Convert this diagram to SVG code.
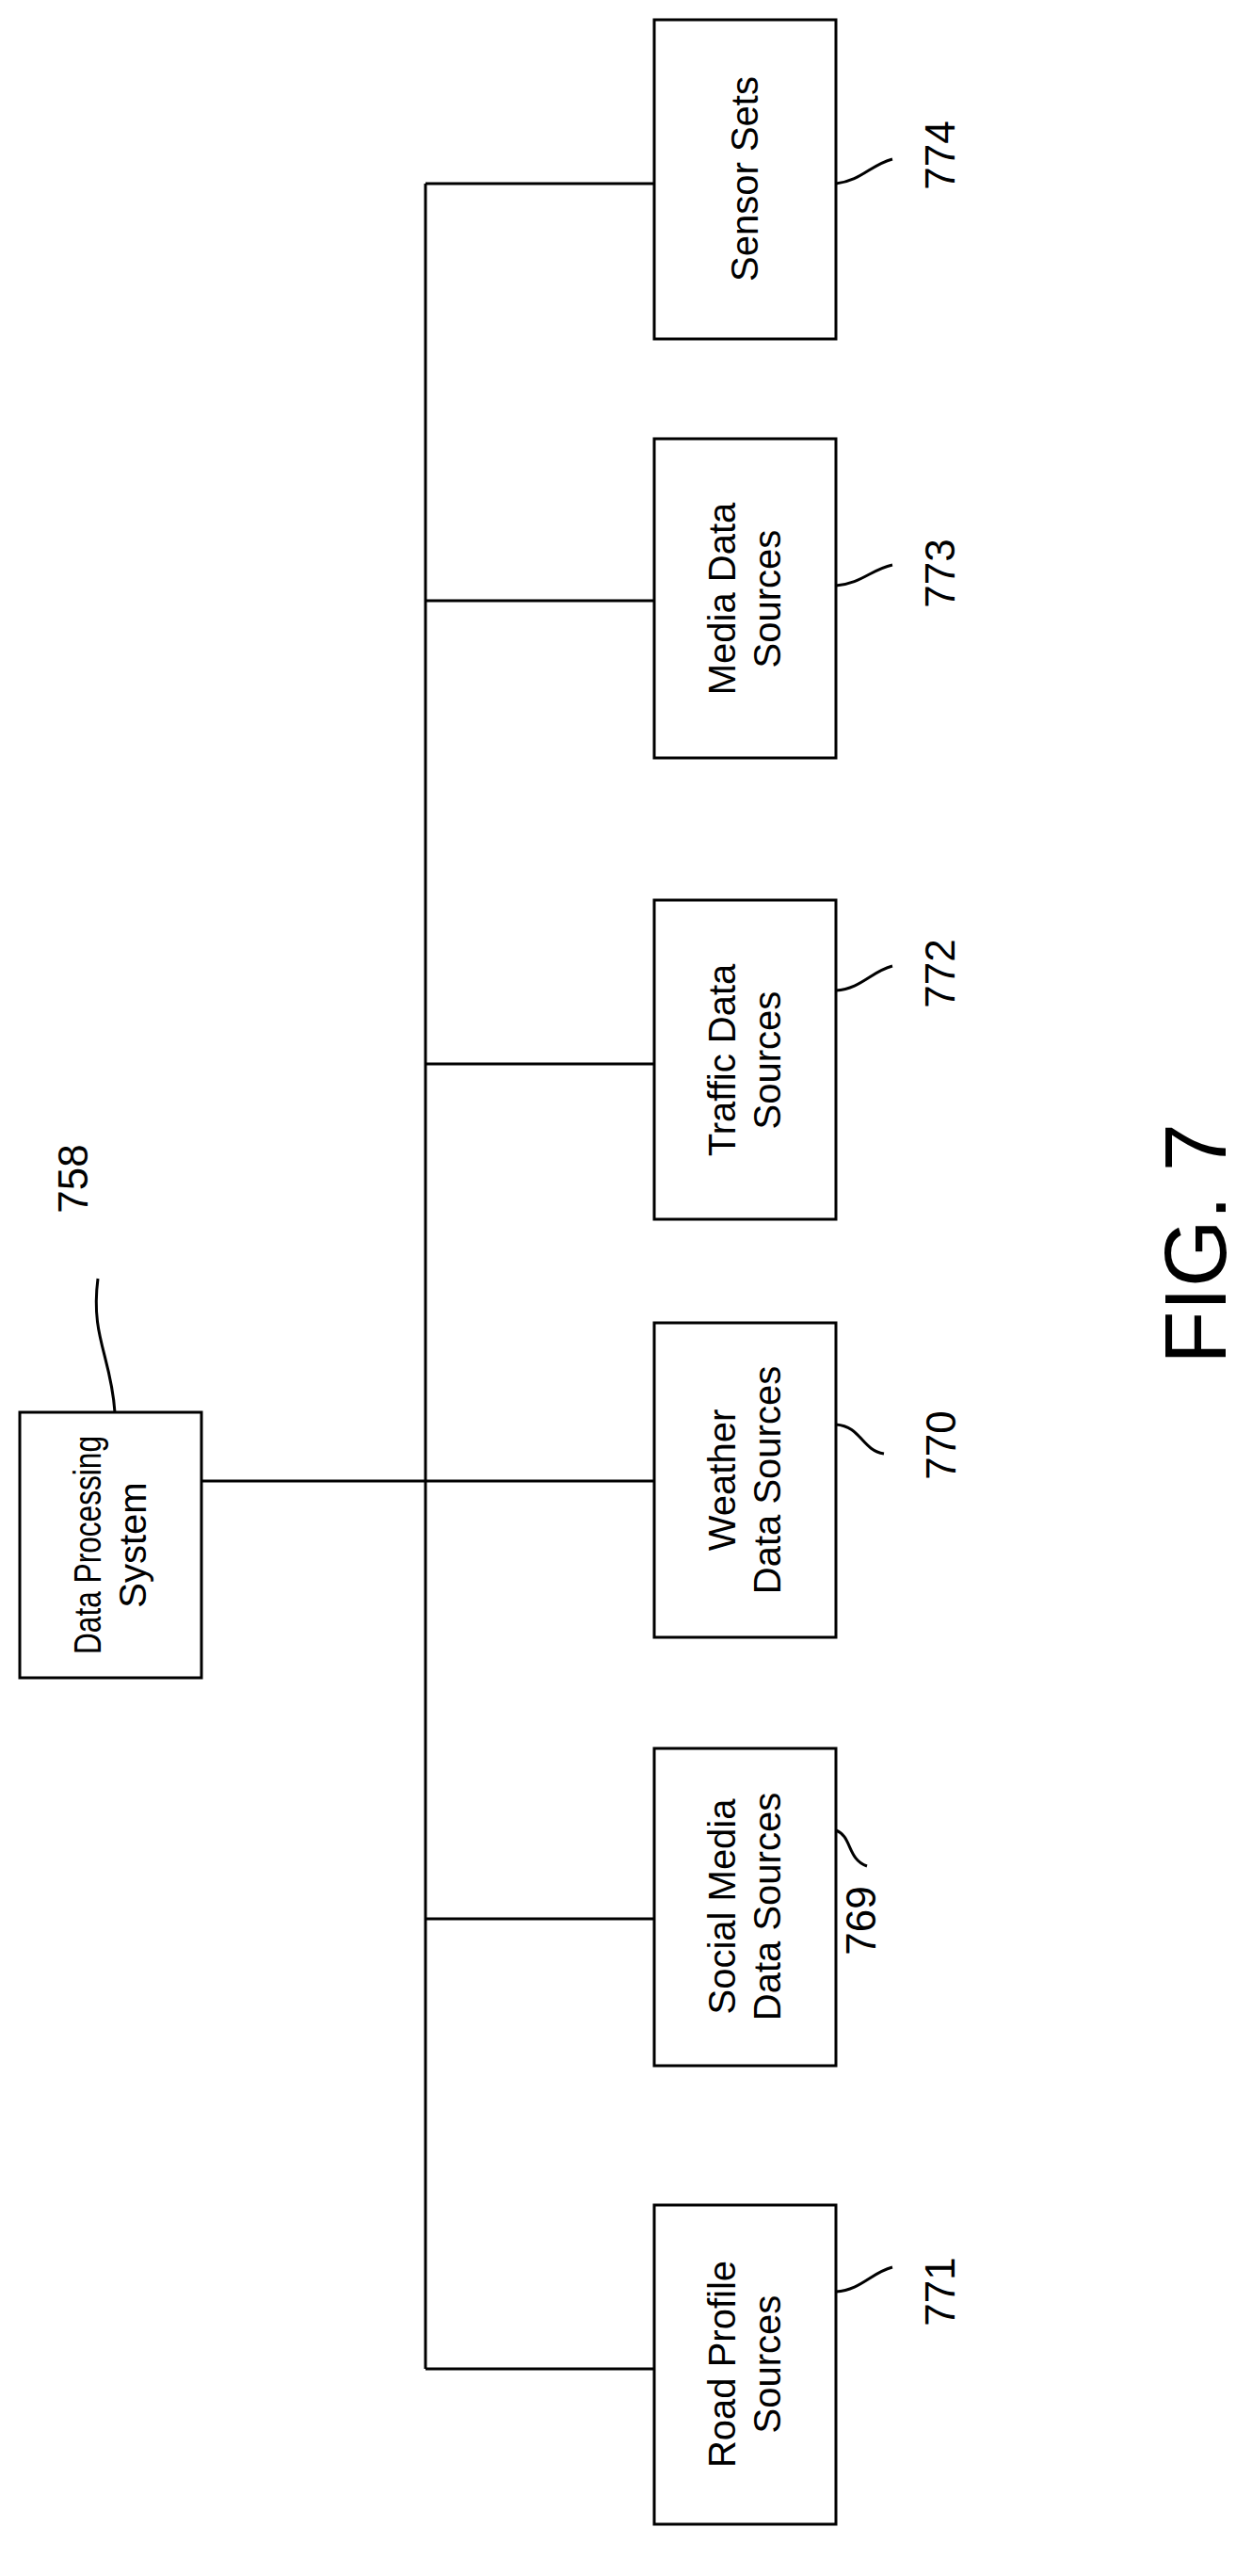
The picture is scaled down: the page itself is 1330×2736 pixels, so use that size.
<svg xmlns="http://www.w3.org/2000/svg" width="1330" height="2736" viewBox="0 0 1330 2736">
<style>
.b{fill:#fff;stroke:#000;stroke-width:3}
path,line{fill:none;stroke:#000;stroke-width:3}
text{font-family:"Liberation Sans",Arial,sans-serif;font-size:40px;text-anchor:middle;fill:#000}
.n{font-size:44px}
.fig{font-size:92px}
</style>
<rect width="1330" height="2736" fill="#fff"/>
<g id="connectors">
<line x1="452" y1="195" x2="452" y2="2516"/>
<line x1="452" y1="195" x2="695" y2="195"/>
<line x1="452" y1="638" x2="695" y2="638"/>
<line x1="452" y1="1130" x2="695" y2="1130"/>
<line x1="214" y1="1573" x2="695" y2="1573"/>
<line x1="452" y1="2038" x2="695" y2="2038"/>
<line x1="452" y1="2516" x2="695" y2="2516"/>
</g>
<g id="n758">
<rect class="b" x="21" y="1500" width="193" height="282"/>
<text transform="translate(117,1641) rotate(-90)"><tspan x="0" y="-10" textLength="232" lengthAdjust="spacingAndGlyphs">Data Processing</tspan><tspan x="0" y="38">System</tspan></text>
<path d="M122 1500 C118 1440 96 1420 104 1358"/>
<text class="n" transform="translate(78,1252) rotate(-90)" y="15">758</text>
</g>
<g id="n774">
<rect class="b" x="695" y="21" width="193" height="339"/>
<text transform="translate(791,190) rotate(-90)" y="14">Sensor Sets</text>
<path d="M888 195 C915 192 925 175 948 169"/>
<text class="n" transform="translate(999,165) rotate(-90)" y="15">774</text>
</g>
<g id="n773">
<rect class="b" x="695" y="466" width="193" height="339"/>
<text transform="translate(791,636) rotate(-90)"><tspan x="0" y="-10">Media Data</tspan><tspan x="0" y="38">Sources</tspan></text>
<path d="M888 622 C915 620 925 605 948 600"/>
<text class="n" transform="translate(999,609) rotate(-90)" y="15">773</text>
</g>
<g id="n772">
<rect class="b" x="695" y="956" width="193" height="339"/>
<text transform="translate(791,1126) rotate(-90)"><tspan x="0" y="-10">Traffic Data</tspan><tspan x="0" y="38">Sources</tspan></text>
<path d="M888 1052 C915 1050 925 1032 948 1026"/>
<text class="n" transform="translate(999,1034) rotate(-90)" y="15">772</text>
</g>
<g id="n770">
<rect class="b" x="695" y="1405" width="193" height="334"/>
<text transform="translate(791,1572) rotate(-90)"><tspan x="0" y="-10">Weather</tspan><tspan x="0" y="38">Data Sources</tspan></text>
<path d="M888 1513 C915 1515 915 1540 939 1544"/>
<text class="n" transform="translate(1000,1535) rotate(-90)" y="15">770</text>
</g>
<g id="n769">
<rect class="b" x="695" y="1857" width="193" height="337"/>
<text transform="translate(791,2025) rotate(-90)"><tspan x="0" y="-10">Social Media</tspan><tspan x="0" y="38">Data Sources</tspan></text>
<path d="M888 1944 C905 1950 900 1975 921 1982"/>
<text class="n" transform="translate(915,2040) rotate(-90)" y="15">769</text>
</g>
<g id="n771">
<rect class="b" x="695" y="2342" width="193" height="339"/>
<text transform="translate(791,2511) rotate(-90)"><tspan x="0" y="-10">Road Profile</tspan><tspan x="0" y="38">Sources</tspan></text>
<path d="M888 2434 C915 2432 925 2414 948 2408"/>
<text class="n" transform="translate(999,2434) rotate(-90)" y="15">771</text>
</g>
<text class="fig" transform="translate(1269,1321) rotate(-90)" y="33">FIG. 7</text>
</svg>
